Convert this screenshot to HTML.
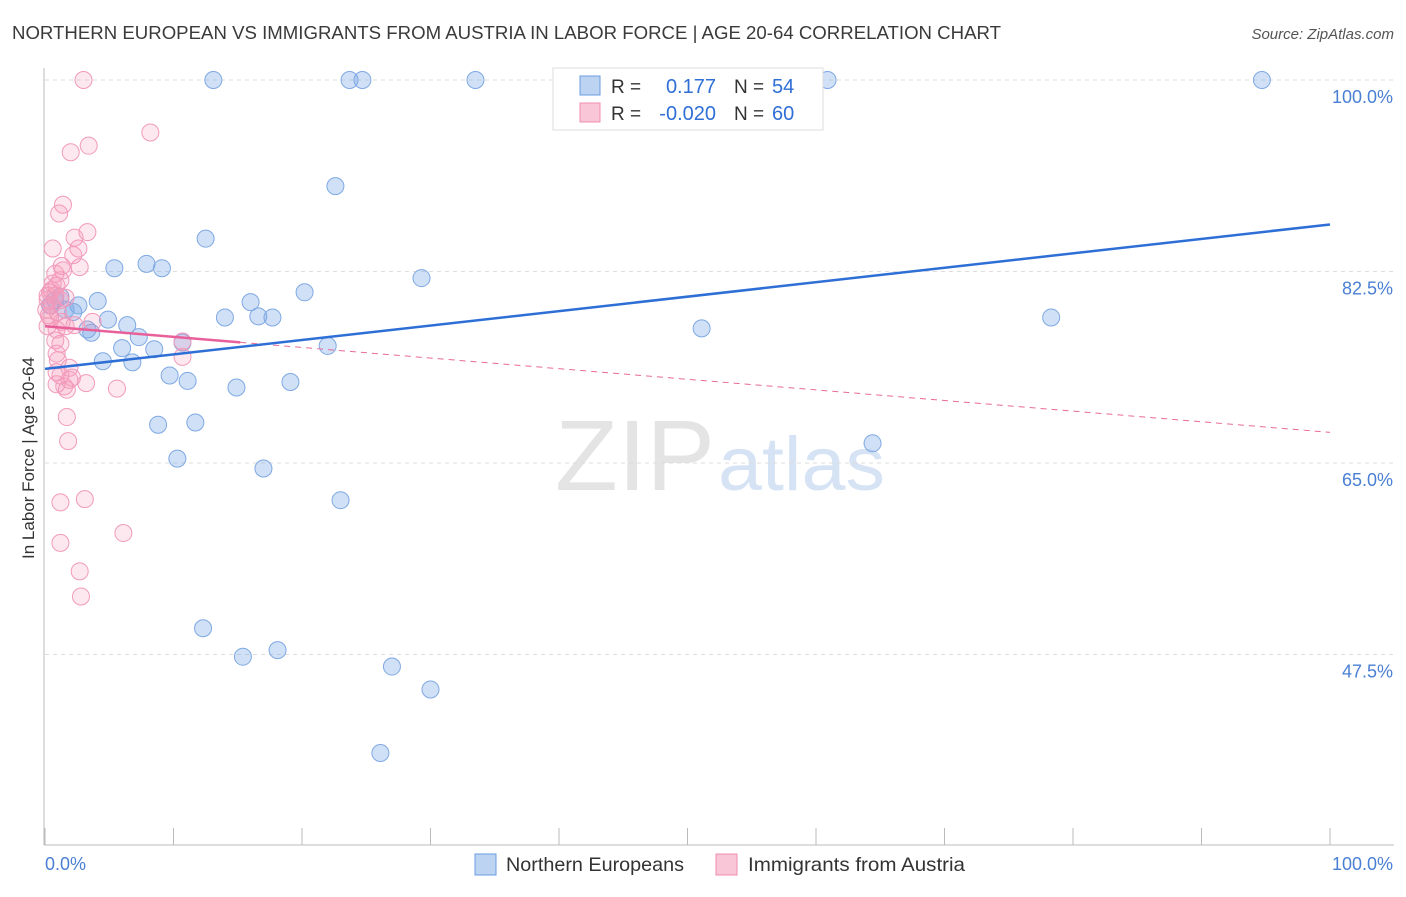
<!DOCTYPE html>
<html><head><meta charset="utf-8"><style>
body{margin:0;background:#fff;font-family:"Liberation Sans",sans-serif;}
svg text{font-family:"Liberation Sans",sans-serif;}
</style></head><body>
<svg id="chart" width="1406" height="892" xmlns="http://www.w3.org/2000/svg">
<text x="12" y="39" font-size="18" fill="#3a3a3a" textLength="989" lengthAdjust="spacingAndGlyphs">NORTHERN EUROPEAN VS IMMIGRANTS FROM AUSTRIA IN LABOR FORCE | AGE 20-64 CORRELATION CHART</text>
<text x="1394" y="39" font-size="15" fill="#555" text-anchor="end" font-style="italic">Source: ZipAtlas.com</text>
<text x="555" y="490" font-size="100" fill="#e4e4e4" font-family="Liberation Serif" textLength="160" lengthAdjust="spacingAndGlyphs">ZIP</text>
<text x="718" y="490" font-size="76" fill="#d6e3f5" textLength="167" lengthAdjust="spacingAndGlyphs">atlas</text>
<g id="grid"></g>
<g id="marks"></g>
<text transform="translate(34,458) rotate(-90)" font-size="17" fill="#333" text-anchor="middle">In Labor Force | Age 20-64</text>
<text x="45" y="870" font-size="18" fill="#4a7fd4">0.0%</text>
<text x="1393" y="870" font-size="18" fill="#4a7fd4" text-anchor="end">100.0%</text>
<g>
<rect x="553" y="68" width="270" height="62" fill="#fff" stroke="#ddd"/>
<rect x="580" y="76" width="20" height="19" fill="#bcd3f2" stroke="#6a9de0"/>
<rect x="580" y="103" width="20" height="19" fill="#f9c6d8" stroke="#f08cb0"/>
<text x="611" y="93" font-size="19" fill="#333">R =</text>
<text x="716" y="93" font-size="20" fill="#2f6fd6" text-anchor="end">0.177</text>
<text x="734" y="93" font-size="19" fill="#333">N =</text>
<text x="772" y="93" font-size="20" fill="#2f6fd6">54</text>
<text x="611" y="120" font-size="19" fill="#333">R =</text>
<text x="716" y="120" font-size="20" fill="#2f6fd6" text-anchor="end">-0.020</text>
<text x="734" y="120" font-size="19" fill="#333">N =</text>
<text x="772" y="120" font-size="20" fill="#2f6fd6">60</text>
</g>
<g>
<rect x="475" y="854" width="21" height="21" fill="#bcd3f2" stroke="#6a9de0"/>
<text x="506" y="871" font-size="19.5" fill="#333" textLength="178" lengthAdjust="spacingAndGlyphs">Northern Europeans</text>
<rect x="716" y="854" width="21" height="21" fill="#f9c6d8" stroke="#f08cb0"/>
<text x="748" y="871" font-size="19.5" fill="#333" textLength="217" lengthAdjust="spacingAndGlyphs">Immigrants from Austria</text>
</g>
</svg>
<script>
const yTicks=[100,82.5,65,47.5];
const yTickLabels=["100.0%","82.5%","65.0%","47.5%"];
const xTicks=[0,10,20,30,40,50,60,70,80,90,100];
const blueX=[13.1,23.7,24.7,33.5,40.9,60.9,94.7,22.6,12.5,5.4,7.9,9.1,29.3,4.1,1.2,16.0,20.2,14.0,16.6,17.7,4.9,6.4,2.6,2.2,3.3,3.6,7.3,6.0,8.5,10.7,22.0,51.1,78.3,4.5,6.8,9.7,11.1,14.9,19.1,8.8,11.7,64.4,10.3,17.0,23.0,12.3,15.4,18.1,27.0,30.0,26.1,0.8,1.6,0.4];
const blueY=[100,100,100,100,100,100,100,90.3,85.5,82.8,83.2,82.8,81.9,79.8,80.2,79.7,80.6,78.3,78.4,78.3,78.1,77.6,79.4,78.8,77.2,76.9,76.5,75.5,75.4,76.0,75.7,77.3,78.3,74.3,74.2,73.0,72.5,71.9,72.4,68.5,68.7,66.8,65.4,64.5,61.6,49.9,47.3,47.9,46.4,44.3,38.5,79.9,79.0,79.4];
const pinkX=[3.0,8.2,2.0,3.4,1.4,1.1,3.3,2.3,0.6,2.6,2.2,1.3,2.7,0.8,1.2,0.9,0.4,0.8,0.2,1.2,0.5,0.1,1.0,0.4,1.3,3.7,0.2,1.6,0.8,1.2,10.7,0.9,10.7,1.9,0.9,1.2,2.1,3.2,0.9,1.5,1.7,5.6,1.7,1.8,1.2,3.1,6.1,1.2,2.7,2.8,1.9,0.5,0.3,1.6,2.3,1.0,1.4,0.6,0.2,0.9];
const pinkY=[100,95.2,93.4,94.0,88.6,87.8,86.1,85.6,84.6,84.6,84.0,83.0,82.9,82.3,81.7,81.2,80.6,80.3,79.9,79.9,79.4,79.0,78.8,78.3,77.9,77.9,77.5,77.5,76.2,75.9,76.1,75.0,74.7,73.7,73.3,73.0,72.8,72.3,72.2,72.0,71.7,71.8,69.2,67.0,61.4,61.7,58.6,57.7,55.1,52.8,72.6,80.8,78.5,80.1,77.6,74.4,82.6,81.4,80.3,77.2];
const blueTrend=[73.6,86.8];
const pinkTrend=[77.5,67.8];
const pinkSolidEnd=15.2;

const NS="http://www.w3.org/2000/svg";
const xs=v=>45+v*12.85;
const ys=v=>80+(100-v)*(191.5/17.5);
const grid=document.getElementById('grid'),marks=document.getElementById('marks');
function mk(tag,attrs,parent){const e=document.createElementNS(NS,tag);for(const k in attrs)e.setAttribute(k,attrs[k]);parent.appendChild(e);return e;}
yTicks.forEach((t,i)=>{
 const l=mk('line',{x1:45,x2:1394,y1:ys(t),y2:ys(t),stroke:'#ddd','stroke-dasharray':'4,4'},grid);
 
 
 const tx=mk('text',{x:1393,y:ys(t)+23,'font-size':18,fill:'#4a7fd4','text-anchor':'end'},grid);
 tx.textContent=yTickLabels[i];
 
 
});
const ax=mk('line',{x1:44,x2:44,y1:68,y2:845,stroke:'#bbb'},grid);


const bx=mk('line',{x1:44,x2:1394,y1:845,y2:845,stroke:'#bbb'},grid);


xTicks.forEach(t=>{
 const l=mk('line',{x1:xs(t),x2:xs(t),y1:828,y2:845,stroke:'#bbb'},grid);
 
 
});
blueX.forEach((x,i)=>{
 const c=mk('circle',{cx:xs(x),cy:ys(blueY[i]),r:8.5,fill:'rgba(120,165,230,0.35)',stroke:'#7fa9e3','stroke-width':1},marks);
 
 
});
pinkX.forEach((x,i)=>{
 const c=mk('circle',{cx:xs(x),cy:ys(pinkY[i]),r:8.5,fill:'rgba(245,150,180,0.22)',stroke:'#f29abb','stroke-width':1},marks);
 
 
});
const pAt=x=>pinkTrend[0]+(pinkTrend[1]-pinkTrend[0])*x/100;
const pd=mk('line',{x1:xs(pinkSolidEnd),y1:ys(pAt(pinkSolidEnd)),x2:xs(100),y2:ys(pinkTrend[1]),stroke:'#e86a98','stroke-width':1,'stroke-dasharray':'6,5'},marks);


const ps=mk('line',{x1:xs(0),y1:ys(pinkTrend[0]),x2:xs(pinkSolidEnd),y2:ys(pAt(pinkSolidEnd)),stroke:'#e8609a','stroke-width':2.5},marks);


const bl=mk('line',{x1:xs(0),y1:ys(blueTrend[0]),x2:xs(100),y2:ys(blueTrend[1]),stroke:'#2e6fd6','stroke-width':2.5},marks);


</script>
</body></html>
